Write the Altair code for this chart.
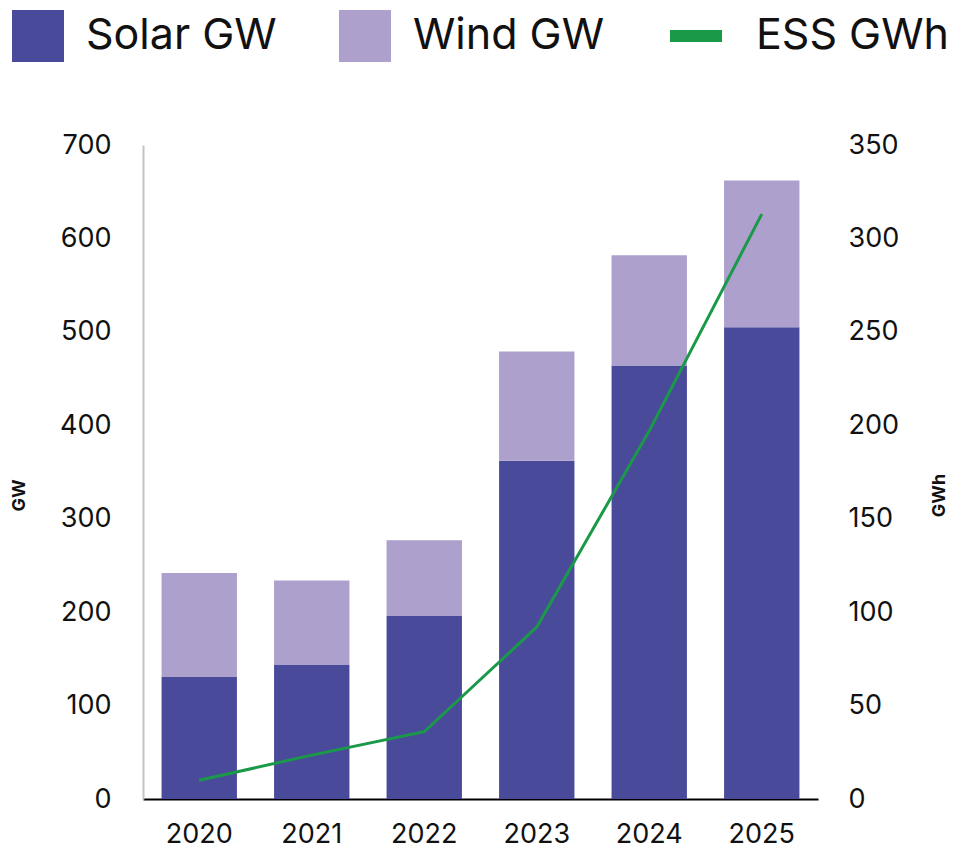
import altair as alt
import pandas as pd

years = ["2020", "2021", "2022", "2023", "2024", "2025"]
solar_gw = [131, 144, 196, 362, 464, 505]
wind_gw = [111, 90, 81, 117, 118, 157]
ess_gwh = [10, 23.5, 36, 92, 197, 313]

series_bars = ["Solar GW", "Wind GW"]
bar_colors = ["#4a4a9a", "#ada0cc"]
line_color = "#1a9a48"

bars_df = pd.DataFrame({
    "year": years * 2,
    "series": [series_bars[0]] * len(years) + [series_bars[1]] * len(years),
    "value": solar_gw + wind_gw,
    "ord": [0] * len(years) + [1] * len(years),
})
line_df = pd.DataFrame({"year": years, "series": ["ESS GWh"] * len(years), "value": ess_gwh})

FONT = "Inter"

x_enc = alt.X(
    "year:N", sort=years, title=None,
    scale=alt.Scale(paddingInner=0.33, paddingOuter=0.165),
    axis=alt.Axis(labelAngle=0, ticks=False, domainColor="#000000", domainWidth=2,
                  labelFontSize=27, labelColor="#111111", labelPadding=22, labelFont=FONT),
)

bars = alt.Chart(bars_df).mark_bar().encode(
    x=x_enc,
    y=alt.Y("value:Q", stack="zero", title="GW",
            scale=alt.Scale(domain=[0, 700]),
            axis=alt.Axis(values=list(range(0, 701, 100)), ticks=False, grid=False,
                          domainColor="#c4c4c4", domainWidth=2,
                          labelFontSize=27, labelColor="#111111", labelPadding=32, labelFont=FONT,
                          titleFont=FONT, titleFontSize=18, titleFontWeight="bold", titleColor="#111111",
                          titleAngle=-90, titleX=-124, titleY=350, titleAlign="center", titleBaseline="middle")),
    fill=alt.Fill("series:N", title=None,
                  scale=alt.Scale(domain=series_bars, range=bar_colors),
                  legend=alt.Legend(orient="none", legendX=-131, legendY=-135, direction="horizontal",
                                    symbolType="square", symbolSize=2704, symbolStrokeWidth=0,
                                    labelFontSize=43, labelFont=FONT, labelColor="#111111",
                                    labelOffset=22, columnPadding=62, labelLimit=400)),
    order=alt.Order("ord:Q", sort="ascending"),
)

line = alt.Chart(line_df).mark_line(strokeWidth=3).encode(
    x=alt.X("year:N", sort=years),
    y=alt.Y("value:Q", title="GWh",
            scale=alt.Scale(domain=[0, 350]),
            axis=alt.Axis(orient="right", values=list(range(0, 351, 50)), ticks=False, grid=False,
                          domain=False,
                          labelFontSize=27, labelColor="#111111", labelPadding=30, labelFont=FONT,
                          titleFont=FONT, titleFontSize=18, titleFontWeight="bold", titleColor="#111111",
                          titleAngle=-90, titleX=121, titleY=350, titleAlign="center", titleBaseline="middle")),
    stroke=alt.Stroke("series:N", title=None,
                      scale=alt.Scale(domain=["ESS GWh"], range=[line_color]),
                      legend=alt.Legend(orient="none", legendX=521, legendY=-141, direction="horizontal",
                                        symbolType="stroke", symbolSize=2704, symbolStrokeWidth=12,
                                        labelFontSize=43, labelFont=FONT, labelColor="#111111",
                                        labelOffset=28, labelLimit=400)),
)

chart = alt.layer(bars, line).resolve_scale(y="independent").properties(
    width=675, height=654,
    autosize=alt.AutoSizeParams(type="none"),
    padding={"left": 135, "top": 137, "right": 132, "bottom": 50},
).configure(font=FONT).configure_view(stroke=None)

chart.save("out.html", embed_options={"renderer": "svg", "actions": False})
